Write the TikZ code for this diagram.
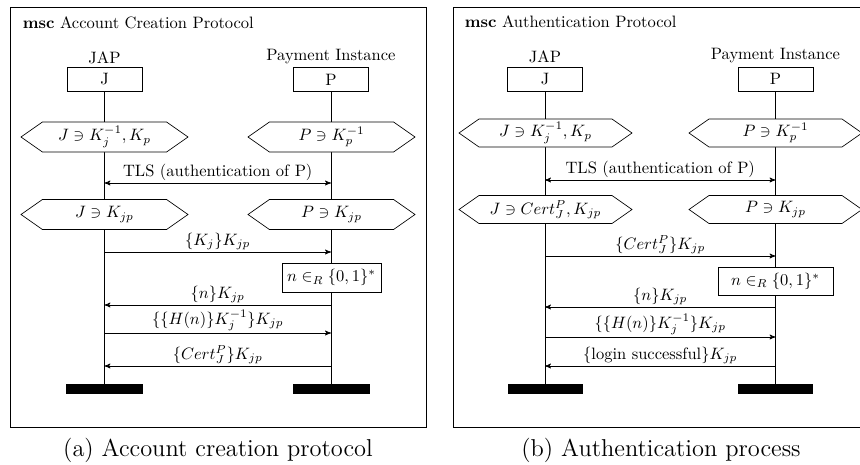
\documentclass[tikz,border=0pt]{standalone}
\usetikzlibrary{arrows,shapes.symbols,backgrounds}

\newcommand{\pxu}{0.606pt}

\begin{document}
\begin{tikzpicture}[x=\pxu,y=-\pxu,
  inst/.style={draw,minimum width=75*\pxu,minimum height=24*\pxu,inner sep=0pt},
  cond/.style={draw,fill=white,shape=signal,signal to=west and east,signal pointer angle=70,minimum height=30*\pxu,inner sep=0pt},
  act/.style={draw,fill=white,minimum height=29*\pxu,inner sep=0pt},
  endbar/.style={fill=black,minimum width=77*\pxu,minimum height=10*\pxu,inner sep=0pt},
  msg/.style={-stealth'},
  lbl/.style={above,inner sep=1pt},
  mscframe/.style={draw,line width=0.6pt}]

\useasboundingbox (0,0) rectangle (860,465);
\clip (0,0) rectangle (860,465);

% (a) account creation
\draw [mscframe] (10,7) rectangle (426,427);
\node [anchor=west] (ta) at (17,23) {\textbf{msc} Account Creation Protocol};

\node [inst] (ja) at (104.5,79.5) {J};
\node [inst] (pa) at (331,79.5) {P};
\node [above,inner sep=2pt] (jna) at (ja.north) {JAP};
\node [above,inner sep=2pt] (pna) at (pa.north) {Payment Instance};

\node [cond,minimum width=167*\pxu] (jka) at (104.5,137) {$J \ni K_j^{-1}, K_p$};
\node [cond,minimum width=167*\pxu] (pka) at (331.5,137) {$P \ni K_p^{-1}$};
\node [cond,minimum width=167*\pxu] (jsa) at (104.5,214.5) {$J \ni K_{jp}$};
\node [cond,minimum width=167*\pxu] (psa) at (331.5,214.5) {$P \ni K_{jp}$};
\node [act,minimum width=99*\pxu] (nra) at (331.5,277.5) {$n \in_R \{0,1\}^*$};

\node [endbar] (jea) at (104.5,389) {};
\node [endbar] (pea) at (331,389) {};

\begin{scope}[on background layer]
\draw (ja.south) -- (jea.north);
\draw (pa.south) -- (pea.north);
\end{scope}

\coordinate (a1) at (0,183);
\coordinate (a2) at (0,252);
\coordinate (a3) at (0,305);
\coordinate (a4) at (0,333);
\coordinate (a5) at (0,366);

\draw [stealth'-stealth'] (ja |- a1) -- node [lbl] {TLS (authentication of P)} (pa |- a1);
\draw [msg] (ja |- a2) -- node [lbl] {$\{K_j\}K_{jp}$} (pa |- a2);
\draw [msg] (pa |- a3) -- node [lbl] {$\{n\}K_{jp}$} (ja |- a3);
\draw [msg] (ja |- a4) -- node [lbl] {$\{\{H(n)\}K_j^{-1}\}K_{jp}$} (pa |- a4);
\draw [msg] (pa |- a5) -- node [lbl] {$\{Cert_J^P\}K_{jp}$} (ja |- a5);

\node (capa) at (218,450) {\fontsize{14.8}{17}\selectfont (a) Account creation protocol};

% (b) authentication
\draw [mscframe] (453,7) rectangle (880,427);
\node [anchor=west] (tb) at (459,22) {\textbf{msc} Authentication Protocol};

\node [inst] (jb) at (545,79) {J};
\node [inst] (pb) at (775.5,79) {P};
\node [above,inner sep=2pt] (jnb) at (jb.north) {JAP};
\node [above,inner sep=2pt] (pnb) at (pb.north) {Payment Instance};

\node [cond,minimum width=173*\pxu,minimum height=28*\pxu] (jkb) at (545.5,133) {$J \ni K_j^{-1}, K_p$};
\node [cond,minimum width=173*\pxu,minimum height=28*\pxu] (pkb) at (775.5,133) {$P \ni K_p^{-1}$};
\node [cond,minimum width=173*\pxu,minimum height=28*\pxu] (jsb) at (545.5,209.5) {$J \ni Cert_J^P, K_{jp}$};
\node [cond,minimum width=173*\pxu,minimum height=28*\pxu] (psb) at (775.5,209.5) {$P \ni K_{jp}$};
\node [act,minimum width=115*\pxu,minimum height=28*\pxu] (nrb) at (775.5,281) {$n \in_R \{0,1\}^*$};

\node [endbar,minimum width=75*\pxu] (jeb) at (545,389) {};
\node [endbar,minimum width=75*\pxu] (peb) at (775.5,389) {};

\begin{scope}[on background layer]
\draw (jb.south) -- (jeb.north);
\draw (pb.south) -- (peb.north);
\end{scope}

\coordinate (b1) at (0,180);
\coordinate (b2) at (0,256);
\coordinate (b3) at (0,307);
\coordinate (b4) at (0,337);
\coordinate (b5) at (0,366);

\draw [stealth'-stealth'] (jb |- b1) -- node [lbl] {TLS (authentication of P)} (pb |- b1);
\draw [msg] (jb |- b2) -- node [lbl] {$\{Cert_J^P\}K_{jp}$} (pb |- b2);
\draw [msg] (pb |- b3) -- node [lbl] {$\{n\}K_{jp}$} (jb |- b3);
\draw [msg] (jb |- b4) -- node [lbl] {$\{\{H(n)\}K_j^{-1}\}K_{jp}$} (pb |- b4);
\draw [msg] (pb |- b5) -- node [lbl] {$\{\mbox{login successful}\}K_{jp}$} (jb |- b5);

\node (capb) at (661,450) {\fontsize{14.8}{17}\selectfont (b) Authentication process};

\end{tikzpicture}
\end{document}
